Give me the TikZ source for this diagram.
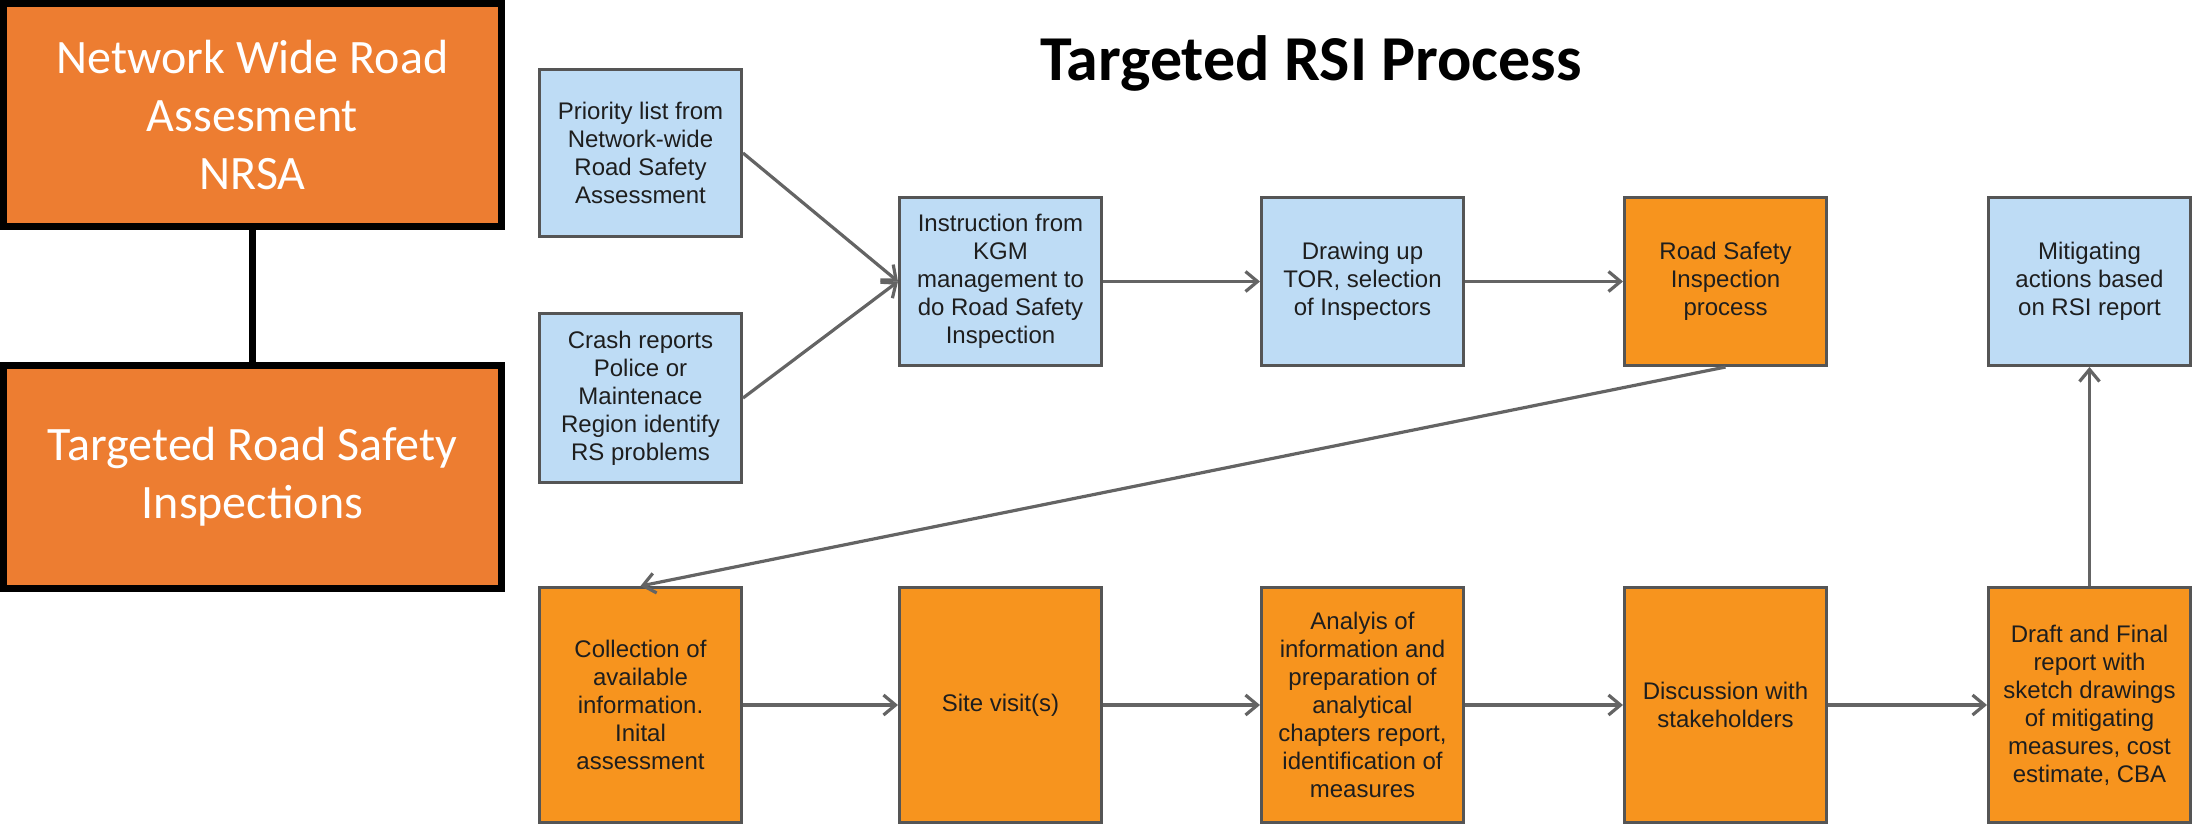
\documentclass[tikz,border=0pt]{standalone}
\usepackage{fontspec}
\setmainfont{Liberation Sans}
\newfontfamily\carlito{Carlito}
\usetikzlibrary{arrows.meta}
\definecolor{nrsaorange}{RGB}{237,125,49}
\definecolor{rsiorange}{RGB}{247,148,30}
\definecolor{rsiblue}{RGB}{190,220,245}
\definecolor{rsiedge}{RGB}{85,85,85}
\definecolor{rsiline}{RGB}{100,100,100}
\definecolor{rsitext}{RGB}{30,30,30}
\begin{document}
\begin{tikzpicture}[x=0.5pt,y=-0.5pt,
  leftbox/.style={draw=black,line width=3.5pt,fill=nrsaorange,text=white,
    minimum width=249pt,minimum height=111.5pt,align=center,
    font=\carlito\fontsize{24}{29}\selectfont},
  flowbox/.style={draw=rsiedge,line width=1.5pt,minimum width=101pt,
    align=center,text=rsitext,font=\fontsize{12}{14}\selectfont},
  bluebox/.style={flowbox,fill=rsiblue,minimum height=84pt},
  orangebox/.style={flowbox,fill=rsiorange,minimum height=84pt},
  lowbox/.style={flowbox,fill=rsiorange,minimum height=117.5pt}]
% sheet of 2211 x 827 px, coordinates in px
\ifx\rsilw\undefined\newdimen\rsilw\fi
\global\def\rsidraw{\draw[line width=\rsilw,draw=rsiline,-{Straight Barb[length=6pt,width=10pt]}]}
\rsilw=1.6pt
\useasboundingbox (0,0) rectangle (2211,827);
% left column
\node[leftbox] (nrsa) at (252.5,115) {Network Wide Road\\Assesment\\NRSA};
\node[leftbox] (trsi) at (252.5,477) {Targeted Road Safety\\Inspections};
\draw[line width=3.5pt] (nrsa.south) -- (trsi.north);
% title
\node[anchor=base,font=\carlito\bfseries\fontsize{32}{38}\selectfont] (title) at (1311,80) {Targeted RSI Process};
% top row
\node[bluebox,minimum height=83.5pt] (prio) at (640.5,153) {Priority list from\\Network-wide\\Road Safety\\Assessment};
\node[bluebox,minimum height=84.5pt] (crash) at (640.5,398) {Crash reports\\Police or\\Maintenace\\Region identify\\RS problems};
\node[bluebox] (instr) at (1000.5,281.5) {Instruction from\\KGM\\management to\\do Road Safety\\Inspection};
\node[bluebox] (tor) at (1362.5,281.5) {Drawing up\\TOR, selection\\of Inspectors};
\node[orangebox] (rsi) at (1725.5,281.5) {Road Safety\\Inspection\\process};
\node[bluebox] (mitig) at (2089.5,281.5) {Mitigating\\actions based\\on RSI report};
% bottom row
\node[lowbox] (collect) at (640.5,705) {Collection of\\available\\information.\\Inital\\assessment};
\node[lowbox] (site) at (1000.5,705) {Site visit(s)};
\node[lowbox] (analys) at (1362.5,705) {Analyis of\\information and\\preparation of\\analytical\\chapters report,\\identification of\\measures};
\node[lowbox] (discuss) at (1725.5,705) {Discussion with\\stakeholders};
\node[lowbox] (draft) at (2089.5,705) {Draft and Final\\report with\\sketch drawings\\of mitigating\\measures, cost\\estimate, CBA};
% connectors
\rsidraw (prio.east) -- (instr.west);
\rsidraw (crash.east) -- (instr.west);
\rsidraw (instr) -- (tor);
\rsidraw (tor) -- (rsi);
\rsidraw (rsi.south) -- (collect.north);
\rsidraw (collect) -- (site);
\rsidraw (site) -- (analys);
\rsidraw (analys) -- (discuss);
\rsidraw (discuss) -- (draft);
\rsidraw (draft) -- (mitig);
\end{tikzpicture}
\end{document}
